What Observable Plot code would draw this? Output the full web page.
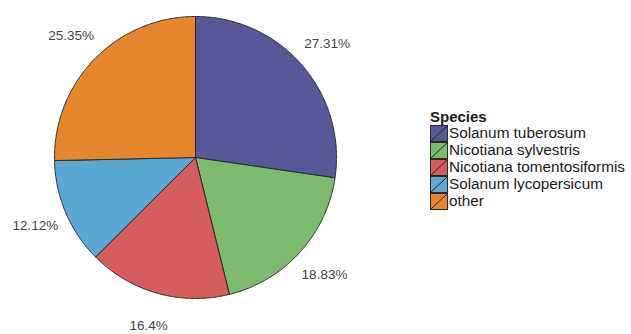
<!DOCTYPE html>
<html>
<head>
<meta charset="utf-8">
<script src="https://cdn.jsdelivr.net/npm/d3@7"></script>
<script src="https://cdn.jsdelivr.net/npm/@observablehq/plot@0.6"></script>
<style>
  html, body { margin: 0; padding: 0; background: #fff; }
  #wrap { position: relative; width: 631px; height: 334px; font-family: "Liberation Sans", Arial, sans-serif; }
  #legend { position: absolute; left: 430px; top: 109px; color: #1a1a1a; }
  #legend .title { font-weight: bold; font-size: 15px; line-height: 16px; height: 16px; }
  #legend .row { display: flex; align-items: center; height: 16.9px; }
  #legend .row span { font-size: 15.3px; margin-left: 1px; line-height: 16px; }
  #legend svg { display: block; }
</style>
</head>
<body>
<div id="wrap"><div id="chart"></div><div id="legend"></div></div>
<script>
const species = ["Solanum tuberosum", "Nicotiana sylvestris", "Nicotiana tomentosiformis", "Solanum lycopersicum", "other"];
const values = [27.31, 18.83, 16.4, 12.12, 25.35];
const labels = ["27.31%", "18.83%", "16.4%", "12.12%", "25.35%"];
const colors = ["#585898", "#7cba6e", "#d55e5c", "#5ba8d2", "#e5862f"];
const legendTitle = "Species";

const arcs = d3.pie().sort(null).value(d => d.value)(species.map((s, i) => ({species: s, value: values[i], label: labels[i]})));

// polygon outline of each slice in unit-radius space (y up, clockwise from top)
const slicePts = [];
for (const a of arcs) {
  const s = a.data.species;
  slicePts.push({species: s, x: 0, y: 0});
  const n = Math.max(2, Math.ceil((a.endAngle - a.startAngle) / (Math.PI / 360)));
  for (let k = 0; k <= n; k++) {
    const t = a.startAngle + (a.endAngle - a.startAngle) * k / n;
    slicePts.push({species: s, x: Math.sin(t), y: Math.cos(t)});
  }
  slicePts.push({species: s, x: 0, y: 0});
}
const labelR = 1.235;
const labelPts = arcs.map(a => {
  const m = (a.startAngle + a.endAngle) / 2;
  return {label: a.data.label, x: labelR * Math.sin(m), y: labelR * Math.cos(m)};
});

const plot = Plot.plot({
  width: 631,
  height: 334,
  margin: 0,
  x: {domain: [-1, 1], range: [54, 336], axis: null},
  y: {domain: [-1, 1], range: [298, 16], axis: null},
  color: {domain: species, range: colors},
  style: {fontFamily: "Liberation Sans, Arial, sans-serif", background: "white"},
  marks: [
    Plot.line(slicePts, {x: "x", y: "y", z: "species", fill: "species", stroke: "#2a2a2a", strokeWidth: 1, strokeLinejoin: "round"}),
    Plot.text(labelPts, {x: "x", y: "y", text: "label", fontSize: 13.5, fill: "#444"})
  ]
});
document.getElementById("chart").appendChild(plot);

const legend = document.getElementById("legend");
const t = document.createElement("div");
t.className = "title";
t.textContent = legendTitle;
legend.appendChild(t);
species.forEach((s, i) => {
  const row = document.createElement("div");
  row.className = "row";
  row.innerHTML = `<svg width="18" height="17"><rect x="0.5" y="0.5" width="17" height="16" fill="${colors[i]}" stroke="#2a2a2a" stroke-width="1"/><line x1="1" y1="16" x2="17" y2="1" stroke="#2a2a2a" stroke-width="1"/></svg>`;
  const sp = document.createElement("span");
  sp.textContent = s;
  row.appendChild(sp);
  legend.appendChild(row);
});
</script>
</body>
</html>
